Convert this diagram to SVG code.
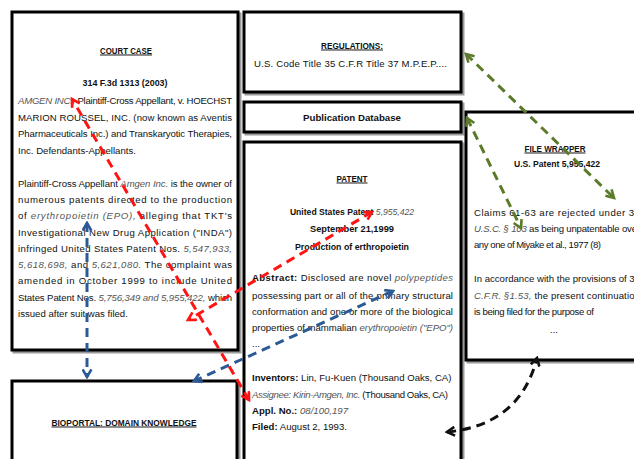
<svg xmlns="http://www.w3.org/2000/svg" width="634" height="459" viewBox="0 0 634 459">
<style>
.box{fill:#fff;stroke:#000;stroke-width:3}
.sh{fill:none;stroke:#9a9a9a;stroke-width:3}
text{font-family:"Liberation Sans",Arial,sans-serif;font-size:9.6px;fill:#111}
.h{font-weight:bold;text-anchor:middle;text-decoration:underline}
.b{font-weight:bold;text-anchor:middle}
.bl{font-weight:bold}
.i{font-style:italic;fill:#555}
.c{fill:none;stroke-width:3;stroke-dasharray:9 6}
.red{stroke:#ff1414}
.blue{stroke:#2c5a96}
.green{stroke:#5b7a2a}
.blk{stroke:#111}
</style>
<defs>
<marker id="mr" viewBox="0 0 10 10" refX="8" refY="5" markerWidth="11" markerHeight="11" markerUnits="userSpaceOnUse" orient="auto-start-reverse"><path d="M1,1 L8,5 L1,9" fill="none" stroke="#ff1414" stroke-width="2.4"/></marker>
<marker id="mb" viewBox="0 0 10 10" refX="8" refY="5" markerWidth="11" markerHeight="11" markerUnits="userSpaceOnUse" orient="auto-start-reverse"><path d="M1,1 L8,5 L1,9" fill="none" stroke="#2c5a96" stroke-width="2.4"/></marker>
<marker id="mg" viewBox="0 0 10 10" refX="8" refY="5" markerWidth="11" markerHeight="11" markerUnits="userSpaceOnUse" orient="auto-start-reverse"><path d="M1,1 L8,5 L1,9" fill="none" stroke="#5b7a2a" stroke-width="2.4"/></marker>
<marker id="mk" viewBox="0 0 10 10" refX="8" refY="5" markerWidth="11" markerHeight="11" markerUnits="userSpaceOnUse" orient="auto-start-reverse"><path d="M1,1 L8,5 L1,9" fill="none" stroke="#111" stroke-width="2.4"/></marker>
</defs>

<g id="court-case">
<rect class="sh" x="14" y="14" width="226" height="338"/>
<rect class="box" x="12" y="12" width="226" height="338"/>
<text class="h" x="126" y="53.5" textLength="52" lengthAdjust="spacingAndGlyphs">COURT CASE</text>
<text class="b" x="125" y="85.5" textLength="85" lengthAdjust="spacingAndGlyphs">314 F.3d 1313 (2003)</text>
<text x="18" y="103.5" textLength="214" lengthAdjust="spacing"><tspan class="i">AMGEN INC.,</tspan> Plaintiff-Cross Appellant, v. HOECHST</text>
<text x="18" y="120.5" textLength="214" lengthAdjust="spacing">MARION ROUSSEL, INC. (now known as Aventis</text>
<text x="18" y="136.5" textLength="214" lengthAdjust="spacing">Pharmaceuticals Inc.) and Transkaryotic Therapies,</text>
<text x="18" y="153.5">Inc. Defendants-Appellants.</text>
<text x="18" y="186.5" textLength="214" lengthAdjust="spacing">Plaintiff-Cross Appellant <tspan class="i">Amgen Inc.</tspan> is the owner of</text>
<text x="18" y="202.5" textLength="214" lengthAdjust="spacing">numerous patents directed to the production</text>
<text x="18" y="218.5" textLength="214" lengthAdjust="spacing">of <tspan class="i">erythropoietin (EPO),</tspan> alleging that TKT's</text>
<text x="18" y="235.5" textLength="214" lengthAdjust="spacing">Investigational New Drug Application ("INDA")</text>
<text x="18" y="251.5" textLength="214" lengthAdjust="spacing">infringed United States Patent Nos. <tspan class="i">5,547,933,</tspan></text>
<text x="18" y="267.5" textLength="214" lengthAdjust="spacing"><tspan class="i">5,618,698,</tspan> and <tspan class="i">5,621,080.</tspan> The complaint was</text>
<text x="18" y="283.5" textLength="214" lengthAdjust="spacing">amended in October 1999 to include United</text>
<text x="18" y="300.5" textLength="214" lengthAdjust="spacing">States Patent Nos. <tspan class="i">5,756,349 and 5,955,422,</tspan> which</text>
<text x="18" y="316.5">issued after suit was filed.</text>
</g>

<g id="regulations">
<rect class="sh" x="246" y="14" width="217" height="80"/>
<rect class="box" x="244" y="12" width="217" height="80"/>
<text class="h" x="352" y="48.5" textLength="62" lengthAdjust="spacingAndGlyphs">REGULATIONS:</text>
<text x="254" y="66.5" textLength="193" lengthAdjust="spacing">U.S. Code Title 35  C.F.R Title 37  M.P.E.P....</text>
</g>

<g id="publication-database">
<rect class="sh" x="246" y="104" width="217" height="30"/>
<rect class="box" x="244" y="102" width="217" height="30"/>
<text class="b" x="352" y="120.5" textLength="98" lengthAdjust="spacingAndGlyphs">Publication Database</text>
</g>

<g id="patent">
<rect class="sh" x="246" y="144" width="217" height="330"/>
<rect class="box" x="244" y="142" width="217" height="330"/>
<text class="h" x="352" y="181.5" textLength="31" lengthAdjust="spacingAndGlyphs">PATENT</text>
<text class="b" x="352" y="214.5" style="font-size:8.6px">United States Patent <tspan class="i" style="font-weight:normal">5,955,422</tspan></text>
<text class="b" x="352" y="231.5" textLength="84" lengthAdjust="spacingAndGlyphs">September 21,1999</text>
<text class="b" x="352" y="249.5" textLength="114" lengthAdjust="spacingAndGlyphs">Production of erthropoietin</text>
<text x="252" y="280.5" textLength="201" lengthAdjust="spacing"><tspan class="bl">Abstract:</tspan> Disclosed are novel <tspan class="i">polypeptides</tspan></text>
<text x="252" y="298.5" textLength="201" lengthAdjust="spacing">possessing part or all of the primary structural</text>
<text x="252" y="314.5" textLength="201" lengthAdjust="spacing">conformation and one or more of the biological</text>
<text x="252" y="330.5" textLength="201" lengthAdjust="spacing">properties of mammalian <tspan class="i">erythropoietin ("EPO")</tspan></text>
<text x="252" y="346.5">...</text>
<text x="252" y="380.5"><tspan class="bl">Inventors:</tspan> Lin, Fu-Kuen (Thousand Oaks, CA)</text>
<text x="252" y="397.5" textLength="196" lengthAdjust="spacing"><tspan class="i">Assignee: Kirin-Amgen, Inc.</tspan> (Thousand Oaks, CA)</text>
<text x="252" y="413.5"><tspan class="bl">Appl. No.:</tspan> <tspan class="i">08/100,197</tspan></text>
<text x="252" y="429.5"><tspan class="bl">Filed:</tspan> August 2, 1993.</text>
</g>

<g id="file-wrapper">
<rect class="sh" x="468" y="114" width="190" height="248"/>
<rect class="box" x="466" y="112" width="190" height="248"/>
<text class="h" x="555" y="151.5" textLength="61" lengthAdjust="spacingAndGlyphs">FILE WRAPPER</text>
<text class="b" x="557" y="166.5" textLength="86" lengthAdjust="spacingAndGlyphs">U.S. Patent 5,955,422</text>
<text x="474" y="215.5" textLength="166" lengthAdjust="spacing">Claims 61-63 are rejected under 35</text>
<text x="474" y="231.5" textLength="166" lengthAdjust="spacing"><tspan class="i">U.S.C. § 103</tspan> as being unpatentable over</text>
<text x="474" y="247.5" textLength="127" lengthAdjust="spacing">any one of Miyake et al., 1977 (8)</text>
<text x="474" y="281.5" textLength="166" lengthAdjust="spacing">In accordance with the provisions of 37</text>
<text x="474" y="298.5" textLength="166" lengthAdjust="spacing"><tspan class="i">C.F.R. §1.53,</tspan> the present continuation</text>
<text x="474" y="314.5" textLength="120" lengthAdjust="spacing">is being filed for the purpose of</text>
<text x="554" y="333" text-anchor="middle">...</text>
</g>

<g id="bioportal">
<rect class="sh" x="14" y="383" width="225" height="100"/>
<rect class="box" x="12" y="381" width="225" height="100"/>
<text class="h" x="124" y="425.5" textLength="145" lengthAdjust="spacingAndGlyphs">BIOPORTAL: DOMAIN KNOWLEDGE</text>
</g>

<g id="connectors">
<path class="c red" d="M249,400 L72,99" marker-start="url(#mr)" marker-end="url(#mr)"/>
<path class="c red" d="M372,212 L188,320" marker-start="url(#mr)" marker-end="url(#mr)"/>
<path class="c blue" d="M87,223 L87,377" marker-start="url(#mb)" marker-end="url(#mb)"/>
<path class="c blue" d="M393,291 L194,381" marker-start="url(#mb)" marker-end="url(#mb)"/>
<path class="c green" d="M466,54 L614,198" marker-start="url(#mg)" marker-end="url(#mg)"/>
<path class="c green" d="M467,118 L521,228" marker-start="url(#mg)" marker-end="url(#mg)"/>
<path class="c blk" d="M447,432 Q520,425 537,358" marker-start="url(#mk)" marker-end="url(#mk)"/>
</g>
</svg>
